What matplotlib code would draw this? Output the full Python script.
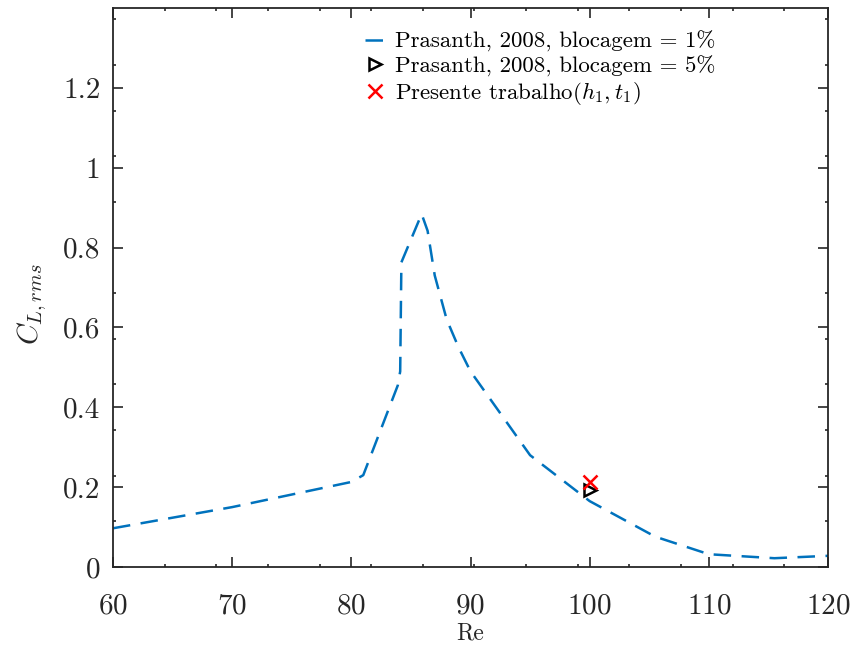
import numpy as np
import matplotlib
matplotlib.use('Agg')
import matplotlib.pyplot as plt
from matplotlib.ticker import FixedLocator

plt.rcParams['font.family'] = 'serif'
plt.rcParams['font.serif'] = ['cmr10']
plt.rcParams['mathtext.fontset'] = 'cm'
plt.rcParams['axes.formatter.use_mathtext'] = True

# Prasanth 2008, blocagem = 1%
re_1 = [60, 70, 80, 81, 83.9, 84.1, 84.2, 85.9, 86.4, 87, 88, 89, 90, 95, 100, 105.5, 110, 115.5, 120]
cl_1 = [0.097, 0.15, 0.213, 0.23, 0.455, 0.49, 0.763, 0.884, 0.842, 0.73, 0.62, 0.55, 0.49,
        0.28, 0.165, 0.076, 0.032, 0.022, 0.028]

# Prasanth 2008, blocagem = 5%
re_5 = [100]
cl_5 = [0.192]

# presente trabalho (h1, t1)
re_p = [100]
cl_p = [0.212]

axis_col = '#262626'

fig = plt.figure(figsize=(8.5, 6.51), dpi=100)
ax = fig.add_axes([113 / 850, 1 - 567 / 651, 715 / 850, 559 / 651])

ax.plot(re_1, cl_1, color='#0072BD', lw=1.8, dashes=[7, 4.2],
        label=r'Prasanth, 2008, blocagem = 1%')
ax.plot(re_5, cl_5, ls='none', marker='>', ms=9, mfc='none', mec='k', mew=1.8,
        label=r'Prasanth, 2008, blocagem = 5%')
ax.plot(re_p, cl_p, ls='none', marker='x', ms=10, mec='red', mew=1.8,
        label=r'Presente trabalho$(h_1, t_1)$')

ax.set_xlim(60, 120)
ax.set_ylim(0, 1.4)
ax.set_xticks([60, 70, 80, 90, 100, 110, 120])
ax.set_yticks([0, 0.2, 0.4, 0.6, 0.8, 1.0, 1.2])
ax.set_yticklabels(['0', '0.2', '0.4', '0.6', '0.8', '1', '1.2'])
ax.xaxis.set_minor_locator(FixedLocator(60 + np.arange(14) * 13 / 3))
ax.yaxis.set_minor_locator(FixedLocator(np.arange(1, 13) * 0.8 / 7))

ax.tick_params(which='both', direction='in', top=True, right=True, colors=axis_col,
               labelsize=21, width=1.2)
ax.tick_params(which='major', length=7)
ax.tick_params(axis='y', which='major', pad=9)
ax.tick_params(axis='x', which='major', pad=19)
ax.tick_params(which='minor', length=2.5)
for s in ax.spines.values():
    s.set_color(axis_col)
    s.set_linewidth(1.3)

ax.set_xlabel('Re', fontsize=17, color=axis_col, labelpad=2)
ax.set_ylabel(r'$C_{L,rms}$', fontsize=21, color=axis_col)
ax.yaxis.set_label_coords(-0.09, 0.47)

leg = ax.legend(loc='upper left', bbox_to_anchor=(0.33, 0.988), frameon=False,
                fontsize=16.5, handlelength=0.85, handletextpad=0.45, labelspacing=0.15,
                borderaxespad=0.3)
for t in leg.get_texts():
    t.set_color('black')

fig.savefig('out.png', dpi=100)
